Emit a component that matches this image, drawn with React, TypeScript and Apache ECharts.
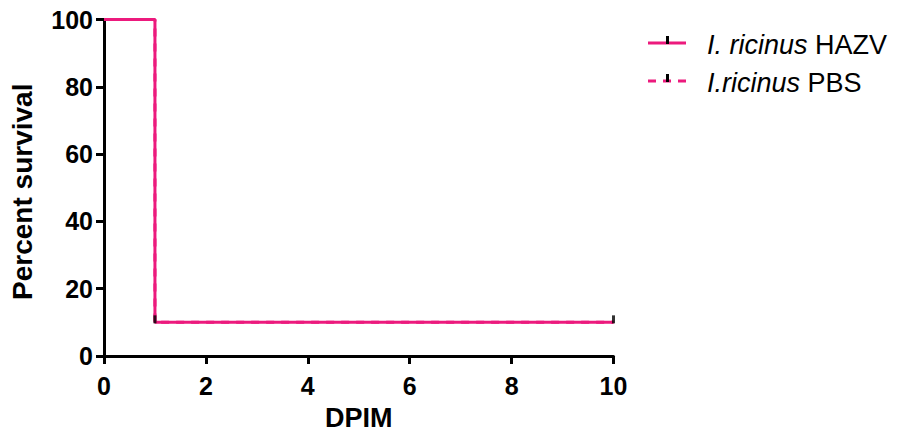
import React, { useEffect, useRef } from "react";
import * as echarts from "echarts";

const times: number[] = [0, 1, 10];
const hazvSurvival: number[] = [100, 10, 10];
const pbsSurvival: number[] = [100, 10, 10];
const censorTimes: number[] = [1, 10];
const censorSurvival: number[] = [10, 10];
const xTicks: number[] = [0, 2, 4, 6, 8, 10];
const yTicks: number[] = [0, 20, 40, 60, 80, 100];
const seriesNames: string[] = ["I. ricinus HAZV", "I.ricinus PBS"];
const legendItalic: string[] = ["I. ricinus", "I.ricinus"];
const legendPlain: string[] = [" HAZV", " PBS"];

const PINK = "#EC1A7D";
const FONT = "'Liberation Sans', Arial, Helvetica, sans-serif";

export default function App() {
  const ref = useRef<HTMLDivElement>(null);
  useEffect(() => {
    if (!ref.current) return;
    const chart = echarts.init(ref.current, null, { renderer: "svg" });
    const pts = (ys: number[]) => times.map((t, i) => [t, ys[i]]);
    const legendY = [43, 81];
    const graphic: any[] = [];
    seriesNames.forEach((name, i) => {
      const y = legendY[i];
      graphic.push({
        type: "line",
        shape: { x1: 648, y1: y, x2: 686, y2: y },
        style: { stroke: PINK, lineWidth: 3, lineDash: i === 1 ? [8, 7] : null },
      });
      graphic.push({
        type: "line",
        shape: { x1: 667.5, y1: y - 7, x2: 667.5, y2: y + 1 },
        style: { stroke: "#000", lineWidth: 3 },
      });
      graphic.push({
        type: "text",
        x: 707,
        y: y + 1.5,
        style: {
          text: `{i|${legendItalic[i]}}{n|${legendPlain[i]}}`,
          verticalAlign: "middle",
          rich: {
            i: { fontStyle: "italic", fontSize: 27, fontFamily: FONT, fill: "#000" },
            n: { fontSize: 27, fontFamily: FONT, fill: "#000" },
          },
        },
      });
    });
    chart.setOption({
      animation: false,
      grid: { left: 104, right: 285.5, top: 19.5, bottom: 79, containLabel: false },
      xAxis: {
        type: "value",
        min: xTicks[0],
        max: xTicks[xTicks.length - 1],
        interval: 2,
        name: "DPIM",
        nameLocation: "middle",
        nameGap: 48,
        nameTextStyle: { fontSize: 27, fontWeight: "bold", color: "#000", fontFamily: FONT },
        axisLine: { lineStyle: { color: "#000", width: 3 } },
        axisTick: { length: 8, lineStyle: { color: "#000", width: 3 } },
        axisLabel: { fontSize: 25, fontWeight: "bold", color: "#000", fontFamily: FONT, margin: 17 },
        splitLine: { show: false },
      },
      yAxis: {
        type: "value",
        min: yTicks[0],
        max: yTicks[yTicks.length - 1],
        interval: 20,
        name: "Percent survival",
        nameLocation: "middle",
        nameGap: 68,
        nameTextStyle: {
          fontSize: 28,
          fontWeight: "bold",
          color: "#000",
          fontFamily: FONT,
          padding: [0, 8, 0, 0],
        },
        axisLine: { show: true, lineStyle: { color: "#000", width: 3 } },
        axisTick: { show: true, length: 8, lineStyle: { color: "#000", width: 3 } },
        axisLabel: { fontSize: 25, fontWeight: "bold", color: "#000", fontFamily: FONT, margin: 11 },
        splitLine: { show: false },
      },
      graphic,
      series: [
        {
          name: seriesNames[0],
          type: "line",
          step: "end",
          showSymbol: false,
          data: pts(hazvSurvival),
          lineStyle: { color: PINK, width: 3 },
          itemStyle: { color: PINK },
          z: 2,
        },
        {
          name: seriesNames[1],
          type: "line",
          step: "end",
          showSymbol: false,
          data: pts(pbsSurvival),
          lineStyle: { color: PINK, width: 3, type: [8, 7] },
          itemStyle: { color: PINK },
          z: 3,
        },
        {
          name: "censored",
          type: "scatter",
          symbol: "rect",
          symbolSize: [3, 8],
          symbolOffset: [0, -3],
          data: censorTimes.map((t, i) => [t, censorSurvival[i]]),
          itemStyle: { color: "#000" },
          z: 4,
        },
      ],
    });
    return () => chart.dispose();
  }, []);
  return (
    <div
      ref={ref}
      style={{ position: "absolute", left: 0, top: 0, width: 899, height: 436, background: "#fff" }}
    />
  );
}
